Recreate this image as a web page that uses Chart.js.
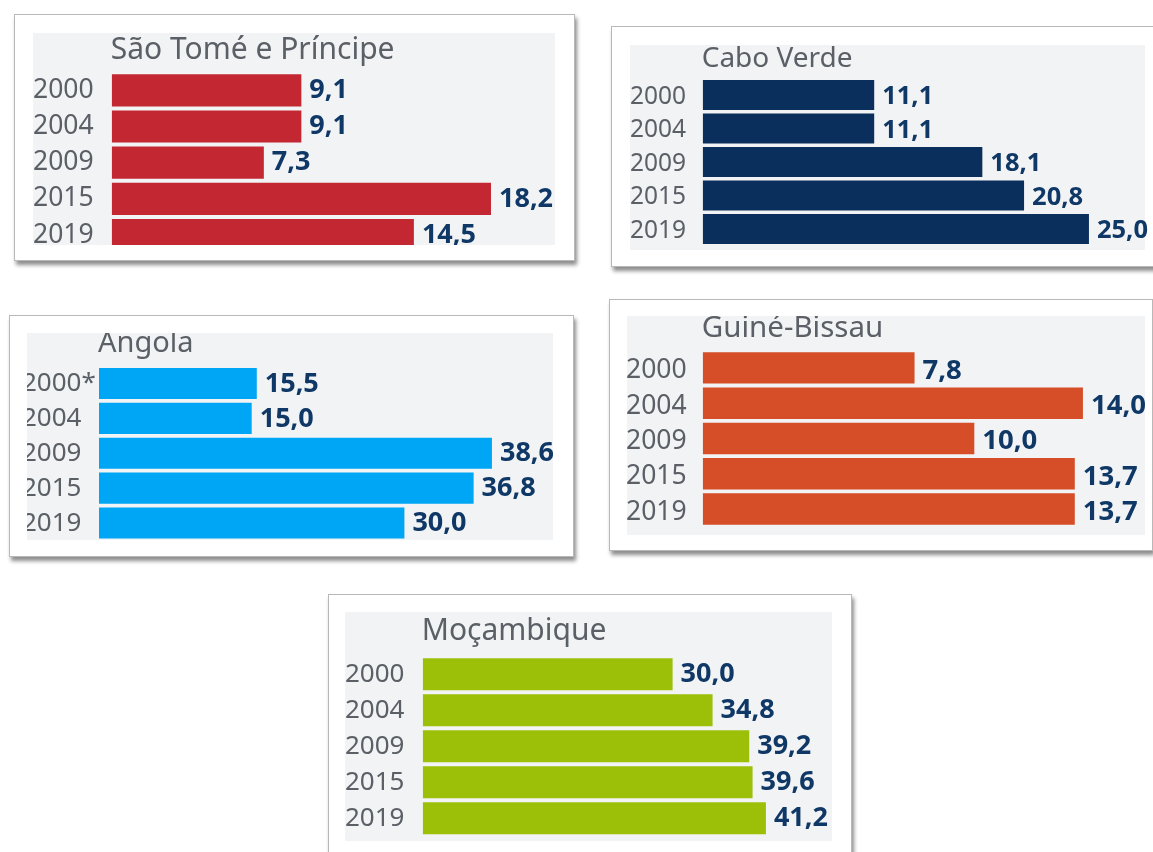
<!DOCTYPE html>
<html lang="pt">
<head>
<meta charset="utf-8">
<title>Países lusófonos</title>
<script src="https://cdn.jsdelivr.net/npm/chart.js@4.4.1/dist/chart.umd.min.js"></script>
<style>
  body { margin: 0; width: 1153px; height: 852px; overflow: hidden; background: #fff; }
  .card { position: absolute; background: #fff; border: 1px solid #b8b8b8; box-shadow: 2px 4px 4px rgba(0,0,0,0.45); }
  .plot { position: absolute; background: #f2f3f5; }
  .plot canvas { position: absolute; }
</style>
</head>
<body>
<script>
// data
const years = ["2000", "2004", "2009", "2015", "2019"];
const yearsAngola = ["2000*", "2004", "2009", "2015", "2019"];
const titles = ["São Tomé e Príncipe", "Cabo Verde", "Angola", "Guiné-Bissau", "Moçambique"];
const saoTome = [9.1, 9.1, 7.3, 18.2, 14.5];
const caboVerde = [11.1, 11.1, 18.1, 20.8, 25.0];
const angola = [15.5, 15.0, 38.6, 36.8, 30.0];
const guineBissau = [7.8, 14.0, 10.0, 13.7, 13.7];
const mocambique = [30.0, 34.8, 39.2, 39.6, 41.2];

// layout of each card (page pixels); fs = [tick, value, title] font sizes
const panels = [
  { title: titles[0], labels: years, values: saoTome, color: "#c22732",
    card: [14, 14, 559, 245], plot: [33, 33, 522, 212], clip: true,
    canvas: [33, 33, 522, 245], labelLeft: 33, barStart: 111.7, bandTop: 72.2, bandBottom: 253.2,
    xMax: 21, pxPerUnit: 20.84, titleBase: 59, fs: [26.5, 27, 30], shift: 0 },
  { title: titles[1], labels: years, values: caboVerde, color: "#0a2f5c",
    card: [611, 26, 560, 239], plot: [630, 45, 515, 205], clip: false,
    canvas: [629, 45, 524, 225], labelLeft: 630, barStart: 702.7, bandTop: 78.25, bandBottom: 245.75,
    xMax: 28, pxPerUnit: 15.45, titleBase: 67, fs: [24.5, 25.5, 28], shift: 2 },
  { title: titles[2], labels: yearsAngola, values: angola, color: "#00a6f6",
    card: [9, 315, 563, 240], plot: [27, 333, 526, 207], clip: true,
    canvas: [10, 300, 543, 262], labelLeft: 22, barStart: 99, bandTop: 366, bandBottom: 540.5,
    xMax: 42, pxPerUnit: 10.18, titleBase: 351.5, fs: [26, 27, 29], shift: 0.5 },
  { title: titles[3], labels: years, values: guineBissau, color: "#d64e27",
    card: [609, 299, 542, 250], plot: [627, 316, 518, 219], clip: false,
    canvas: [620, 316, 533, 232], labelLeft: 626, barStart: 702.7, bandTop: 350.3, bandBottom: 526.6,
    xMax: 16, pxPerUnit: 27.16, titleBase: 337, fs: [26.5, 27.5, 29.5], shift: 3 },
  { title: titles[4], labels: years, values: mocambique, color: "#9bc007",
    card: [328, 594, 522, 280], plot: [345, 612, 487, 229], clip: false,
    canvas: [340, 612, 492, 246], labelLeft: 345, barStart: 422.7, bandTop: 656.3, bandBottom: 836.3,
    xMax: 48, pxPerUnit: 8.33, titleBase: 640, fs: [26, 27, 30], shift: 0.5 }
];

const FONT = "'Noto Sans', 'Open Sans', sans-serif";

function place(el, r) {
  el.style.left = r[0] + "px";
  el.style.top = r[1] + "px";
  el.style.width = r[2] + "px";
  el.style.height = r[3] + "px";
}

// draws the panel title and the value next to each bar
const barText = {
  id: "barText",
  afterDatasetsDraw(chart, args, opts) {
    const ctx = chart.ctx;
    ctx.save();
    ctx.fillStyle = "#5b6067";
    ctx.font = opts.titleSize + "px " + FONT;
    ctx.textAlign = "left";
    ctx.textBaseline = "alphabetic";
    ctx.fillText(opts.title, chart.chartArea.left - 1, opts.titleY);

    ctx.fillStyle = "#0f3866";
    ctx.font = "bold " + opts.valueSize + "px " + FONT;
    ctx.textBaseline = "middle";
    const meta = chart.getDatasetMeta(0);
    meta.data.forEach((bar, i) => {
      const v = chart.data.datasets[0].data[i];
      ctx.fillText(v.toFixed(1).replace(".", ","), bar.x + 8, bar.y + opts.shift);
    });
    ctx.restore();
  }
};

panels.forEach((p) => {
  const card = document.createElement("div");
  card.className = "card";
  place(card, p.card);
  document.body.appendChild(card);

  const plot = document.createElement("div");
  plot.className = "plot";
  place(plot, p.plot);
  plot.style.overflow = p.clip ? "hidden" : "visible";
  document.body.appendChild(plot);

  const [cx, cy, cw, ch] = p.canvas;
  const canvas = document.createElement("canvas");
  canvas.width = cw;
  canvas.height = ch;
  canvas.style.left = (cx - p.plot[0]) + "px";
  canvas.style.top = (cy - p.plot[1]) + "px";
  canvas.style.width = cw + "px";
  canvas.style.height = ch + "px";
  plot.appendChild(canvas);

  const right = p.barStart + p.xMax * p.pxPerUnit;

  new Chart(canvas.getContext("2d"), {
    type: "bar",
    data: {
      labels: p.labels,
      datasets: [{
        data: p.values,
        backgroundColor: p.color,
        borderWidth: 0,
        categoryPercentage: 1,
        barPercentage: 0.89
      }]
    },
    options: {
      indexAxis: "y",
      responsive: false,
      animation: false,
      layout: {
        padding: {
          left: p.labelLeft - cx,
          top: p.bandTop - cy,
          right: cx + cw - right,
          bottom: cy + ch - p.bandBottom
        }
      },
      scales: {
        x: { display: false, min: 0, max: p.xMax },
        y: {
          grid: { display: false, drawTicks: false },
          border: { display: false },
          ticks: {
            autoSkip: false,
            crossAlign: "far",
            padding: 0,
            labelOffset: p.shift,
            color: "#5b6067",
            font: { family: FONT, size: p.fs[0] }
          },
          afterFit: (axis) => { axis.width = p.barStart - p.labelLeft; }
        }
      },
      plugins: {
        legend: { display: false },
        tooltip: { enabled: false },
        barText: { title: p.title, titleY: p.titleBase - cy, titleSize: p.fs[2], valueSize: p.fs[1], shift: p.shift }
      }
    },
    plugins: [barText]
  });
});
</script>
</body>
</html>
